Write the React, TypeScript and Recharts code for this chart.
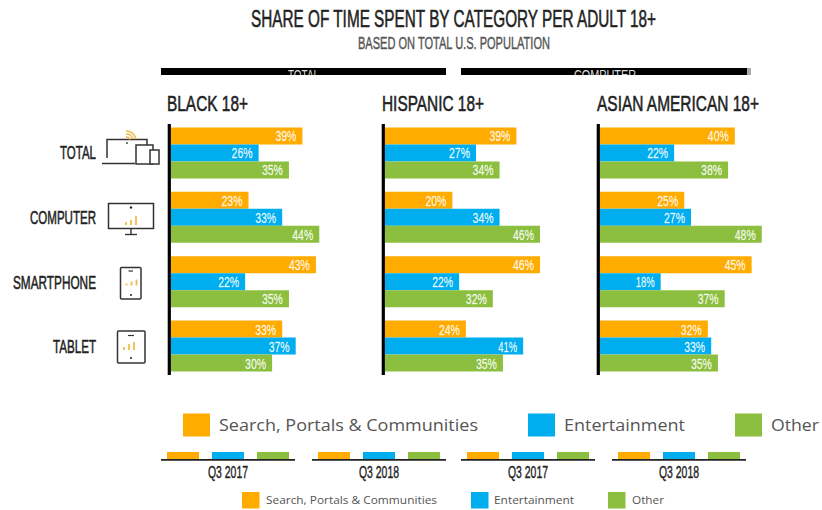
import { Bar, BarChart, LabelList, XAxis, YAxis } from 'recharts'

const CATEGORIES = ['TOTAL', 'COMPUTER', 'SMARTPHONE', 'TABLET']
const SERIES_NAMES = ['Search, Portals & Communities', 'Entertainment', 'Other']
const SERIES_KEYS = ['search', 'entertainment', 'other']
const COLORS = ['#FFAB00', '#00AEEF', '#8CBF3F']

const GROUPS = ['BLACK 18+', 'HISPANIC 18+', 'ASIAN AMERICAN 18+']
const BLACK_VALUES = [[39, 26, 35], [23, 33, 44], [43, 22, 35], [33, 37, 30]]
const HISPANIC_VALUES = [[39, 27, 34], [20, 34, 46], [46, 22, 32], [24, 41, 35]]
const ASIAN_VALUES = [[40, 22, 38], [25, 27, 48], [45, 18, 37], [32, 33, 35]]

const PERIODS = ['Q3 2017', 'Q3 2018', 'Q3 2017', 'Q3 2018']
const BANNERS = ['TOTAL', 'COMPUTER']

const NARROW = '"Liberation Sans Narrow", "Liberation Sans", sans-serif'
const OPEN = '"Open Sans", sans-serif'
const INK = '#222'
const SQUEEZE = 0.82

const toRows = (values: number[][]) =>
  CATEGORIES.map((name, i) => ({
    name,
    search: values[i][0],
    entertainment: values[i][1],
    other: values[i][2],
  }))

// Squeezed text: the width is fixed so the narrow face reads like a poster font
function Cond({ x, y, w, size, fill = INK, weight = 0.55, text }: any) {
  return (
    <text
      transform={`translate(${x} ${y}) scale(${SQUEEZE} 1)`}
      fontFamily={NARROW}
      fontSize={size}
      fill={fill}
      stroke={fill}
      strokeWidth={weight}
      textLength={w / SQUEEZE}
      lengthAdjust="spacingAndGlyphs"
    >
      {text}
    </text>
  )
}

function ValueLabel({ x, y, width, height, value }: any) {
  const txt = `${value}%`
  const w = txt.includes('1') ? 19 : 21
  return (
    <text
      x={x + width - 6 - w}
      y={y + height / 2 + 5.5}
      fontFamily={NARROW}
      fontSize={15.5}
      fill="#fff"
      fillOpacity={0.92}
      stroke="#fff"
      strokeOpacity={0.6}
      strokeWidth={0.3}
      textLength={w}
      lengthAdjust="spacingAndGlyphs"
    >
      {txt}
    </text>
  )
}

function GroupChart({ left, values }: { left: number; values: number[][] }) {
  return (
    <div style={{ position: 'absolute', left, top: 120.6 }}>
      <BarChart
        width={168.5}
        height={257.6}
        layout="vertical"
        data={toRows(values)}
        margin={{ top: 0, right: 0, bottom: 0, left: 0 }}
        barCategoryGap={6.4}
        barGap={0}
      >
        <XAxis type="number" domain={[0, 50]} hide />
        <YAxis type="category" dataKey="name" hide />
        {SERIES_KEYS.map((key, i) => (
          <Bar key={key} dataKey={key} fill={COLORS[i]} isAnimationActive={false}>
            <LabelList dataKey={key} content={<ValueLabel />} />
          </Bar>
        ))}
      </BarChart>
    </div>
  )
}

function MiniBars({ h }: { h: number[] }) {
  // little signal bars inside the device icons
  return (
    <g stroke="#F0BE4A" strokeWidth={1.8}>
      {h.map((v, i) => (
        <line key={i} x1={i * 5} x2={i * 5} y1={0} y2={-v} />
      ))}
    </g>
  )
}

function Icons() {
  const line = { fill: '#fff', stroke: '#333', strokeWidth: 1.5 }
  return (
    <g>
      {/* laptop, tablet, phone */}
      <path d="M107 158V139.500H147V158" fill="none" stroke="#333" strokeWidth={1.5} />
      <line x1={102} x2={135} y1={163.500} y2={163.500} stroke="#333" strokeWidth={1.6} />
      <circle cx={127} cy={143} r={0.9} fill="#333" />
      <rect x={136} y={145} width={17} height={19} {...line} />
      <rect x={150} y={150} width={9} height={14} {...line} />
      <path d="M126 131a10 10 0 0 1 10 8M126 134a7 7 0 0 1 7 5M126 137a4 4 0 0 1 4 2.500" fill="none" stroke="#F0BE4A" strokeWidth={1.6} />
      {/* monitor */}
      <rect x={108.500} y={203.500} width={45} height={25} {...line} />
      <circle cx={131} cy={207.500} r={1.2} fill="#222" />
      <g transform="translate(126 225)"><MiniBars h={[3, 5, 9]} /></g>
      <line x1={131} x2={131} y1={228} y2={234} stroke="#333" strokeWidth={1.4} />
      <line x1={125} x2={137} y1={234.500} y2={234.500} stroke="#333" strokeWidth={1.4} />
      {/* phone */}
      <rect x={120.500} y={267.500} width={20.500} height={31.500} rx={1} {...line} />
      <line x1={128.500} x2={133} y1={271} y2={271} stroke="#333" strokeWidth={1.2} />
      <circle cx={131} cy={295} r={1} fill="#222" />
      <g transform="translate(126.500 285.500)"><MiniBars h={[2, 4, 6]} /></g>
      {/* tablet */}
      <rect x={117.500} y={331} width={27.500} height={32} rx={1} {...line} />
      <line x1={128} x2={134} y1={335.500} y2={335.500} stroke="#333" strokeWidth={1.2} />
      <circle cx={131} cy={358} r={1} fill="#222" />
      <g transform="translate(124 350)"><MiniBars h={[3, 6, 8]} /></g>
    </g>
  )
}

const ROW_LABELS = [
  { x: 60, y: 159, w: 36 },
  { x: 30, y: 223.500, w: 66 },
  { x: 13, y: 289, w: 83 },
  { x: 53, y: 352.500, w: 43 },
]
const GROUP_TITLES = [
  { x: 167, w: 81 },
  { x: 382, w: 102 },
  { x: 597, w: 162 },
]
const BANNER_BOXES = [
  { x: 161, w: 285, tx: 288, tw: 31 },
  { x: 461, w: 286, tx: 574, tw: 62 },
]
const BIG_LEGEND = [
  { x: 183, tx: 219, tw: 259 },
  { x: 528, tx: 564, tw: 121 },
  { x: 735, tx: 771, tw: 48 },
]
const SMALL_LEGEND = [
  { x: 242, tx: 266, tw: 171 },
  { x: 471, tx: 494, tw: 80 },
  { x: 608, tx: 632, tw: 32 },
]
const PERIOD_LEFT = [161, 312, 461, 612]
const AXIS_X = [169.300, 383.300, 598.300]

export default function App() {
  return (
    <div style={{ position: 'absolute', left: 0, top: 0, width: 822, height: 510, background: '#fff', overflow: 'hidden' }}>
      <svg width={822} height={510} style={{ position: 'absolute', left: 0, top: 0 }}>
        <defs>
          <clipPath id="bannerClip">
            <rect x={0} y={68} width={822} height={7} />
          </clipPath>
        </defs>

        <Cond x={251} y={27} w={405} size={24} text="SHARE OF TIME SPENT BY CATEGORY PER ADULT 18+" />
        <Cond x={358} y={49} w={192} size={16.500} fill="#555" weight={0.4} text="BASED ON TOTAL U.S. POPULATION" />

        {/* header bars are cut off along their lower edge */}
        {BANNER_BOXES.map((b, i) => (
          <g key={i}>
            <rect x={b.x} y={68} width={b.w} height={7} fill="#000" />
            <g clipPath="url(#bannerClip)">
              <Cond x={b.tx} y={80} w={b.tw} size={14} fill="#ddd" weight={0} text={BANNERS[i]} />
            </g>
          </g>
        ))}
        <rect x={747} y={68} width={4} height={7} fill="#aaa" />

        {GROUPS.map((g, i) => (
          <Cond key={g} x={GROUP_TITLES[i].x} y={111} w={GROUP_TITLES[i].w} size={22.500} text={g} />
        ))}
        {CATEGORIES.map((c, i) => (
          <Cond key={c} x={ROW_LABELS[i].x} y={ROW_LABELS[i].y} w={ROW_LABELS[i].w} size={19} text={c} />
        ))}
        <Icons />

        {AXIS_X.map((x) => (
          <line key={x} x1={x} x2={x} y1={124} y2={375} stroke="#000" strokeWidth={3.2} />
        ))}

        {SERIES_NAMES.map((name, i) => (
          <g key={name}>
            <rect x={BIG_LEGEND[i].x} y={413.500} width={27} height={23} fill={COLORS[i]} />
            <text x={BIG_LEGEND[i].tx} y={431} fontFamily={OPEN} fontSize={17} fill="#555" textLength={BIG_LEGEND[i].tw} lengthAdjust="spacingAndGlyphs">
              {name}
            </text>
          </g>
        ))}

        {PERIODS.map((p, i) => (
          <g key={i}>
            {COLORS.map((c, j) => (
              <rect key={c} x={PERIOD_LEFT[i] + 6 + j * 45} y={452} width={32} height={7} fill={c} />
            ))}
            <line x1={PERIOD_LEFT[i]} x2={PERIOD_LEFT[i] + 134} y1={459.800} y2={459.800} stroke="#222" strokeWidth={1.8} />
            <Cond x={PERIOD_LEFT[i] + 47} y={478} w={40} size={16.500} weight={0.4} text={p} />
          </g>
        ))}

        {SERIES_NAMES.map((name, i) => (
          <g key={name}>
            <rect x={SMALL_LEGEND[i].x} y={492} width={17.500} height={16.500} fill={COLORS[i]} />
            <text x={SMALL_LEGEND[i].tx} y={504} fontFamily={OPEN} fontSize={11.500} fill="#555" textLength={SMALL_LEGEND[i].tw} lengthAdjust="spacingAndGlyphs">
              {name}
            </text>
          </g>
        ))}
      </svg>

      <GroupChart left={171} values={BLACK_VALUES} />
      <GroupChart left={385} values={HISPANIC_VALUES} />
      <GroupChart left={600} values={ASIAN_VALUES} />
    </div>
  )
}
